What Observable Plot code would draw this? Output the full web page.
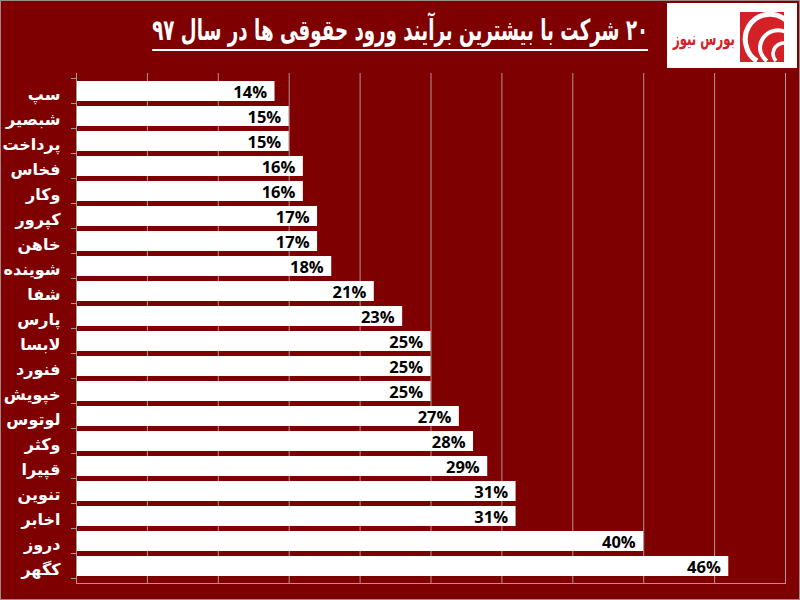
<!DOCTYPE html>
<html>
<head>
<meta charset="utf-8">
<script src="https://cdn.jsdelivr.net/npm/d3@7"></script>
<script src="https://cdn.jsdelivr.net/npm/@observablehq/plot@0.6"></script>
<style>
  html, body { margin: 0; padding: 0; background: #7f0000; }
  #wrap { position: relative; width: 800px; height: 600px; background: #7f0000; overflow: hidden; }
  #border { position: absolute; left: 0; top: 0; width: 798px; height: 598px; border: 1px solid #9a8a8a; pointer-events: none; }
  #title { position: absolute; right: 152px; top: 12px; color: white; font-family: "DejaVu Sans", sans-serif; font-weight: bold; font-size: 29px; direction: rtl; white-space: nowrap; border-bottom: 2px solid white; padding-bottom: 1px; line-height: 36px; transform-origin: right top; }
  #logo { position: absolute; left: 667px; top: 3px; width: 130px; height: 65px; background: white; }
  #chart { position: absolute; left: 0; top: 0; }
</style>
</head>
<body>
<div id="wrap">
  <div id="chart"></div>
  <div id="title"></div>
  <div id="logo">
    <svg width="130" height="65" viewBox="0 0 130 65">
      <text x="68" y="42" text-anchor="end" fill="#d42027" font-family="DejaVu Sans" font-weight="bold" font-size="19" textLength="62" lengthAdjust="spacingAndGlyphs">بورس نیوز</text>
      <rect x="73" y="9" width="44" height="50" fill="#d42027"/>
      <path d="M 127 30 A 24 24 0 0 0 79 42 A 24 24 0 0 0 90 58" fill="none" stroke="white" stroke-width="5"/>
      <path d="M 127 37 A 18 18 0 0 0 93 46 A 18 18 0 0 0 100 58" fill="none" stroke="white" stroke-width="4"/>
      <path d="M 127 44 A 12 12 0 0 0 106 50 A 12 12 0 0 0 109 58" fill="none" stroke="white" stroke-width="3.5"/>
    </svg>
  </div>
  <div id="border"></div>
</div>
<script>
const titleText = "۲۰ شرکت با بیشترین برآیند ورود حقوقی ها در سال ۹۷";
const companies = ["سپ", "شبصیر", "پرداخت", "فخاس", "وکار", "کپرور", "خاهن", "شوینده", "شفا", "پارس", "لابسا", "فنورد", "خپویش", "لوتوس", "وکثر", "قپیرا", "تنوین", "اخابر", "دروز", "کگهر"];
const percents = [14, 15, 15, 16, 16, 17, 17, 18, 21, 23, 25, 25, 25, 27, 28, 29, 31, 31, 40, 46];
const xTicks = [0, 0.05, 0.1, 0.15, 0.2, 0.25, 0.3, 0.35, 0.4, 0.45, 0.5];

const titleEl = document.getElementById("title");
titleEl.textContent = titleText;
// fit title to the reference's width (~496px)
const tw = titleEl.getBoundingClientRect().width;
titleEl.style.transform = `scaleX(${496 / tw})`;

const data = companies.map((c, i) => ({company: c, value: percents[i] / 100}));

// small ticks at band boundaries on the left axis (Excel style)
function bandTicks(index, scales, values, dimensions) {
  const y = scales.y;
  const ns = "http://www.w3.org/2000/svg";
  const g = document.createElementNS(ns, "g");
  const p0 = y(companies[0]);
  const step = y(companies[1]) - p0;
  const bw = y.bandwidth ? y.bandwidth() : step * 0.8;
  const gap = (step - bw) / 2;
  const x0 = dimensions.marginLeft;
  for (let i = 0; i <= companies.length; i++) {
    const yy = p0 - gap + i * step;
    const l = document.createElementNS(ns, "line");
    l.setAttribute("x1", x0 - 5);
    l.setAttribute("x2", x0);
    l.setAttribute("y1", yy);
    l.setAttribute("y2", yy);
    l.setAttribute("stroke", "#a09a9a");
    g.appendChild(l);
  }
  return g;
}

const chart = Plot.plot({
  width: 800,
  height: 600,
  marginTop: 73,
  marginBottom: 17,
  marginLeft: 76,
  marginRight: 15,
  style: {background: "transparent", color: "white", overflow: "visible"},
  x: {domain: [0, 0.5], axis: null},
  y: {domain: companies, axis: null, paddingInner: 0.2, paddingOuter: 0.1},
  marks: [
    Plot.ruleX(xTicks.slice(1), {stroke: "#b39393", strokeWidth: 1}),
    Plot.barX(data, {x: "value", y: "company", fill: "white"}),
    Plot.text(data, {
      x: "value", y: "company",
      text: d => Math.round(d.value * 100) + "%",
      textAnchor: "end", dx: -8, dy: 1,
      fill: "black", fontWeight: "bold", fontSize: 16.5,
      fontFamily: "Open Sans, sans-serif"
    }),
    Plot.text(data, {
      y: "company", text: "company",
      frameAnchor: "left", dx: -16, dy: 3,
      textAnchor: "end",
      fill: "white", fontWeight: "bold", fontSize: 16,
      fontFamily: "DejaVu Sans, sans-serif"
    }),
    Plot.ruleX([0], {stroke: "#a09a9a", strokeWidth: 1}),
    Plot.frame({anchor: "bottom", stroke: "#a09a9a"}),
    bandTicks
  ]
});
document.getElementById("chart").appendChild(chart);
</script>
</body>
</html>
